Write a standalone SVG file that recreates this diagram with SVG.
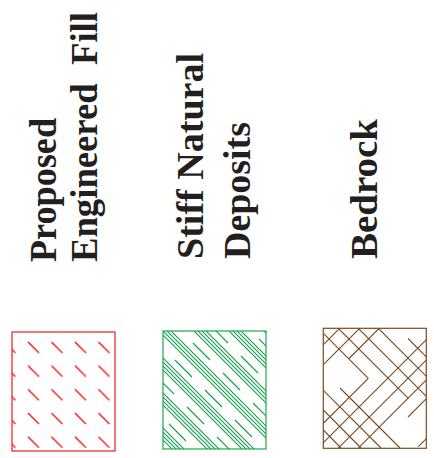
<svg xmlns="http://www.w3.org/2000/svg" width="434" height="458" viewBox="0 0 434 458">
<style>
.lbl{font-family:"Liberation Serif","Times New Roman",serif;font-weight:bold;font-size:38px;fill:#231f20;white-space:pre}
.box{fill:none;stroke-width:1.2}
</style>
<defs>
<pattern id="pRed" x="3.5" y="341" width="23.5" height="23.7" patternUnits="userSpaceOnUse">
<line x1="1" y1="1" x2="12" y2="12" stroke="#ff0000" stroke-width="1.3"/>
</pattern>
<clipPath id="cG"><rect x="163" y="331" width="103" height="118"/></clipPath>
<clipPath id="cB"><rect x="323.3" y="328.3" width="103" height="120"/></clipPath>
</defs>

<g id="labels">
<text class="lbl" transform="translate(56,262) rotate(-90)" textLength="144" lengthAdjust="spacingAndGlyphs">Proposed</text>
<text class="lbl" transform="translate(97,262) rotate(-90)" textLength="250" lengthAdjust="spacingAndGlyphs">Engineered  Fill</text>
<text class="lbl" transform="translate(203,259) rotate(-90)" textLength="206" lengthAdjust="spacingAndGlyphs">Stiff Natural</text>
<text class="lbl" transform="translate(250,259) rotate(-90)" textLength="137" lengthAdjust="spacingAndGlyphs">Deposits</text>
<text class="lbl" transform="translate(377,259) rotate(-90)" textLength="140" lengthAdjust="spacingAndGlyphs">Bedrock</text>
</g>

<g id="fill-legend">
<rect x="12" y="332" width="103" height="119" fill="url(#pRed)" stroke="none"/>
<rect class="box" x="12" y="332" width="103" height="119" stroke="#ed1c24"/>
</g>

<g id="stiff-legend">
<g clip-path="url(#cG)" fill="none" stroke="#12a04a" stroke-width="1.1">
<path stroke="#12a04a" d="M150,205 L280,335 M150,209 L280,339 M150,213 L280,343 M150,217 L280,347
M150,240 L280,370 M150,244 L280,374 M150,248 L280,378 M150,252 L280,382
M150,275 L280,405 M150,279 L280,409 M150,283 L280,413 M150,287 L280,417
M150,310 L280,440 M150,314 L280,444 M150,318 L280,448 M150,322 L280,452
M150,345 L280,475 M150,349 L280,479 M150,353 L280,483 M150,357 L280,487
M150,380 L280,510 M150,384 L280,514 M150,388 L280,518 M150,392 L280,522
M150,415 L280,545 M150,419 L280,549 M150,423 L280,553 M150,427 L280,557"/>
<path stroke="#12a04a" d="M259,339 L276,356
M211,326 L228,343 M241,356 L258,373
M193,343 L210,360 M223,373 L240,390 M253,403 L270,420
M175,360 L192,377 M205,390 L222,407 M235,420 L252,437 M265,450 L282,467
M157,377 L174,394 M187,407 L204,424 M217,437 L234,454
M169,424 L186,441"/>
</g>
<rect class="box" x="163" y="331" width="103" height="118" stroke="#1fa84f"/>
</g>

<g id="bedrock-legend">
<g clip-path="url(#cB)" fill="none" stroke="#7a4a1f" stroke-width="1.1">
<path stroke="#7a4a1f" d="M408,338.5 L430,360.5 M378.3,328.3 L430,380 M358.3,328.3 L430,400 M338.3,328.3 L408.3,398.3 M320,330 L368.3,378.3
M340,388 L400,448 M323.3,390.3 L381,448 M323.3,410 L361,448 M323.3,430 L341,448"/>
<path stroke="#7a4a1f" d="M320,348 L341,327 M320,368 L361,327 M348.75,358.75 L381,326.5 M368.3,378.3 L320,426.6
M320,446 L430,336 M338,448.3 L430,356.3 M358,448.3 L430,376.3 M408,417 L430,395 M418.3,446.7 L430,435"/>
</g>
<rect class="box" x="323.3" y="328.3" width="103" height="120" stroke="#7a4a1f"/>
</g>
</svg>
